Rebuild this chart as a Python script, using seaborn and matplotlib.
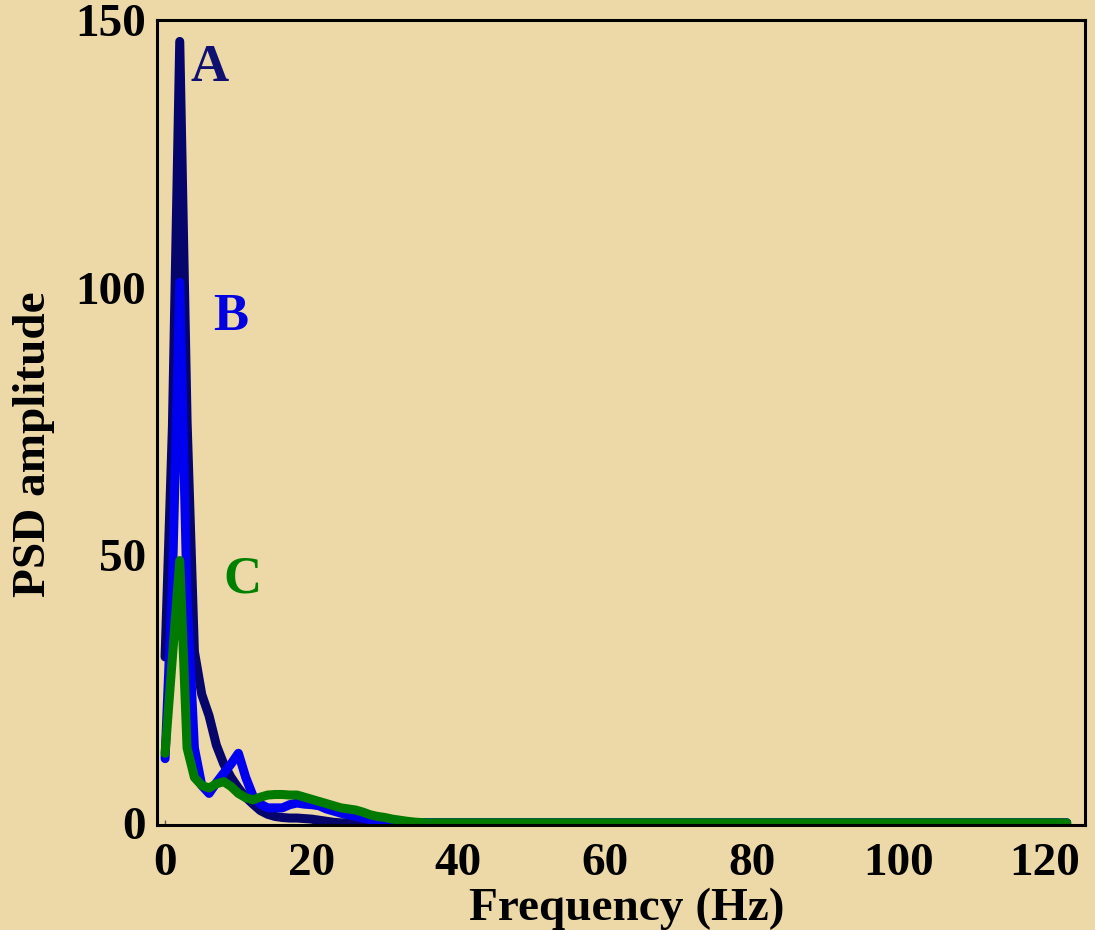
import seaborn as sns
import matplotlib.pyplot as plt
import pandas as pd

# Frequency grid (Hz) and PSD amplitude
freq = [0, 1, 2, 3, 4, 5, 6, 7, 8, 9, 10, 11, 12, 13, 14, 15, 16, 17, 18, 19,
        20, 21, 22, 23, 24, 25, 26, 27, 28, 29, 30, 31, 32, 33, 34, 35, 36, 123]

psd_a = [31, 74, 146, 75, 32, 24, 20, 14.5, 11, 8.5, 6.5, 4.8, 3.5, 2.3, 1.6, 1.2,
         1.0, 0.9, 0.9, 0.8, 0.7, 0.5, 0.3, 0.1, 0, 0, 0, 0, 0, 0, 0, 0, 0, 0, 0,
         0, 0, 0]

psd_b = [12, 45, 101, 42, 14, 7, 5.5, 7.5, 9.3, 11, 13, 8.5, 5, 3.5, 2.8, 2.8,
         2.8, 3.4, 3.7, 3.5, 3.4, 3.2, 2.6, 2.2, 1.8, 1.5, 1.2, 0.9, 0.6, 0.3, 0.1,
         0, 0, 0, 0, 0, 0, 0]

psd_c = [13, 31, 49, 14, 8.5, 7, 6.5, 7.3, 7.7, 6.8, 5.5, 4.7, 4.3, 4.8, 5.2, 5.3,
         5.3, 5.2, 5.2, 4.8, 4.4, 4.0, 3.6, 3.2, 2.8, 2.6, 2.4, 2.0, 1.5, 1.2, 1.0,
         0.7, 0.5, 0.3, 0.15, 0.05, 0, 0]

series_names = ['A', 'B', 'C']
series_colors = ['#05056B', '#0000F0', '#007A00']
label_colors = ['#101070', '#0000E0', '#008000']
# label positions (freq, amplitude)
label_x = [6.1, 9.0, 10.5]
label_y = [141, 94.5, 45.5]

df = pd.concat([
    pd.DataFrame({'Frequency': freq, 'PSD': vals, 'Series': name})
    for name, vals in zip(series_names, [psd_a, psd_b, psd_c])
], ignore_index=True)

bg = '#ECD9A7'
sns.set_style("ticks")
plt.rcParams['font.family'] = ['Liberation Serif', 'DejaVu Serif']
plt.rcParams['font.weight'] = 'bold'
plt.rcParams['text.color'] = 'black'
plt.rcParams['axes.labelcolor'] = 'black'

fig = plt.figure(figsize=(10.95, 9.3), dpi=100, facecolor=bg)
ax = fig.add_axes([0.1434, 0.1129, 0.8475, 0.8656])
ax.set_facecolor(bg)

sns.lineplot(data=df, x='Frequency', y='PSD', hue='Series',
             hue_order=series_names, palette=series_colors,
             linewidth=6.5, solid_capstyle='round', solid_joinstyle='round',
             legend=False, ax=ax)

for name, col, lx, ly in zip(series_names, label_colors, label_x, label_y):
    ax.text(lx, ly, name, color=col, fontsize=38, fontweight='bold',
            ha='center', va='center')

ax.set_xlim(-1.1, 125.5)
ax.set_ylim(-0.4, 150)
ax.set_xticks([0, 20, 40, 60, 80, 100, 120])
ax.set_yticks([0, 50, 100, 150])

ax.tick_params(axis='x', direction='in', length=3.5, width=1, color='#555555',
               labelsize=34, pad=13, labelcolor='black')
ax.tick_params(axis='y', length=0, labelsize=34, pad=8, labelcolor='black')
for lab in ax.get_xticklabels() + ax.get_yticklabels():
    lab.set_fontweight('bold')

for side in ['left', 'right', 'top', 'bottom']:
    ax.spines[side].set_visible(True)
    ax.spines[side].set_color('black')
    ax.spines[side].set_linewidth(2.2)

ax.set_xlabel('Frequency (Hz)', fontsize=34, fontweight='bold', color='black')
ax.set_ylabel('PSD amplitude', fontsize=34, fontweight='bold', color='black')
ax.xaxis.set_label_coords(0.506, -0.078)
ax.yaxis.set_label_coords(-0.11, 0.473)

plt.savefig('out.png', dpi=100, facecolor=bg)
